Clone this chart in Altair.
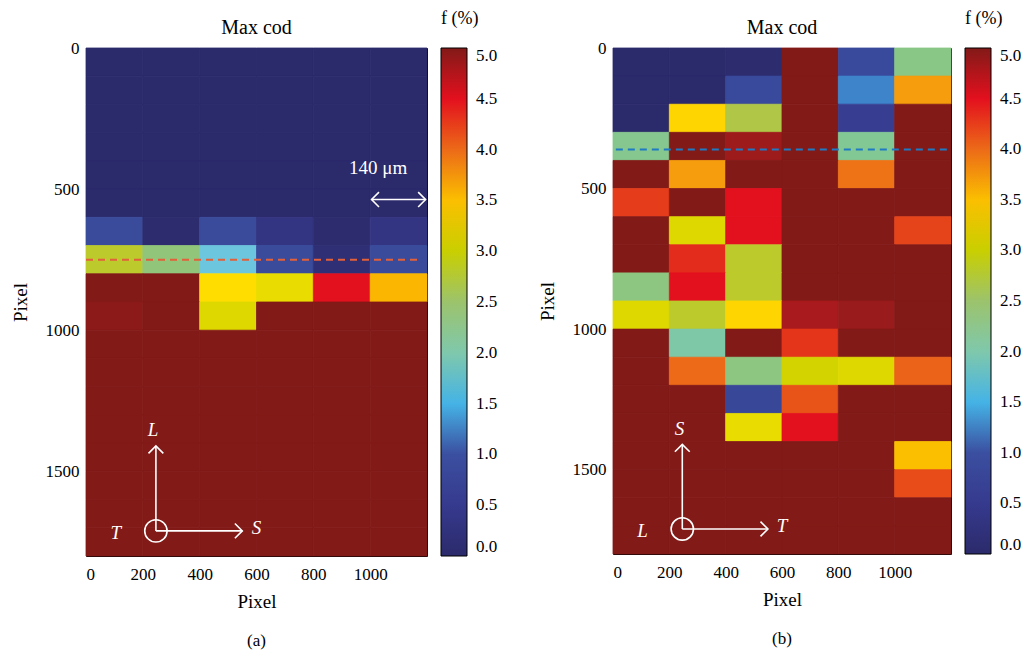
import altair as alt
import pandas as pd

FONT = "Liberation Serif"

# grid edges (pixel units)
X_EDGES = [0, 200, 400, 600, 800, 1000, 1200]
Y_EDGES = [0, 100, 200, 300, 400, 500, 600, 700, 800, 900, 1000,
           1100, 1200, 1300, 1400, 1500, 1600, 1700, 1800]
X_TICKS = [0, 200, 400, 600, 800, 1000]
Y_TICKS = [0, 500, 1000, 1500]
LEGEND_VALUES = [0.0, 0.5, 1.0, 1.5, 2.0, 2.5, 3.0, 3.5, 4.0, 4.5, 5.0]

# f (%) per cell, rows top to bottom, columns left to right
PANEL_A = [
    [0, 0, 0, 0, 0, 0],
    [0, 0, 0, 0, 0, 0],
    [0, 0, 0, 0, 0, 0],
    [0, 0, 0, 0, 0, 0],
    [0, 0, 0, 0, 0, 0],
    [0, 0, 0, 0, 0, 0],
    [0.9, 0.05, 0.9, 0.35, 0.05, 0.35],
    [2.85, 2.4, 1.75, 0.9, 0.15, 0.9],
    [5, 5, 3.3, 3.15, 4.5, 3.55],
    [4.95, 5, 3.1, 5, 5, 5],
    [5, 5, 5, 5, 5, 5],
    [5, 5, 5, 5, 5, 5],
    [5, 5, 5, 5, 5, 5],
    [5, 5, 5, 5, 5, 5],
    [5, 5, 5, 5, 5, 5],
    [5, 5, 5, 5, 5, 5],
    [5, 5, 5, 5, 5, 5],
    [5, 5, 5, 5, 5, 5],
]

PANEL_B = [
    [0, 0, 0.05, 5, 0.85, 2.3],
    [0, 0, 0.85, 5, 1.3, 3.7],
    [0, 3.35, 2.7, 5, 0.6, 5],
    [2.25, 5, 4.85, 5, 2.2, 5],
    [5, 3.7, 5, 5, 3.95, 5],
    [4.3, 5, 4.5, 5, 5, 5],
    [5, 3.1, 4.5, 5, 5, 4.25],
    [5, 4.4, 2.85, 5, 5, 5],
    [2.35, 4.5, 2.85, 5, 5, 5],
    [3.1, 2.85, 3.35, 4.8, 4.88, 5],
    [5, 2.05, 5, 4.35, 5, 5],
    [5, 4.0, 2.35, 3.05, 3.1, 4.05],
    [5, 5, 0.8, 4.15, 5, 5],
    [5, 5, 3.15, 4.5, 5, 5],
    [5, 5, 5, 5, 5, 3.5],
    [5, 5, 5, 5, 5, 4.2],
    [5, 5, 5, 5, 5, 5],
    [5, 5, 5, 5, 5, 5],
]

# colour map stops
STOPS = [0.0, 0.5, 1.0, 1.25, 1.5, 1.75, 2.0, 2.5, 2.75, 3.0, 3.25,
         3.5, 3.75, 4.0, 4.25, 4.5, 4.75, 5.0]
COLORS = ["#2b2a6b", "#363a8e", "#3b4fa0", "#3f78c2", "#45b3e6", "#6cc6de",
          "#7fc8ac", "#9cc36c", "#b6c63a", "#c9cf00", "#ffe400", "#fbbf00",
          "#f39410", "#ec6a18", "#e5441a", "#e3101e", "#b21a1e", "#821a18"]

# annotations (data units)
DASH_A = {"y": 750, "x": 0, "x2": 1170, "color": "#e2603a"}
DASH_B = {"y": 361, "x": 10, "x2": 1190, "color": "#1f7ac4"}
ORIGIN = (246, 1711)
UP_END = 1410
RIGHT_END = 550
LABELS_A = [("L", 236, 1354), ("S", 600, 1701), ("T", 105, 1718)]
LABELS_B = [("S", 236, 1354), ("T", 600, 1701), ("L", 105, 1718)]
SCALE_BAR = {"x": 1005, "x2": 1195, "y": 537, "tx": 1028, "ty": 424, "text": "140 μm"}
PANEL_TITLE = "Max cod"


def grid_frame(vals):
    recs = []
    for r, row in enumerate(vals):
        for c, v in enumerate(row):
            recs.append({"x": X_EDGES[c], "x2": X_EDGES[c + 1],
                         "y": Y_EDGES[r], "y2": Y_EDGES[r + 1], "f": v})
    return pd.DataFrame(recs)


def panel(vals, dash, labels, caption, width, height, scale_bar):
    xs = alt.Scale(domain=[0, 1200], nice=False, zero=False)
    ys = alt.Scale(domain=[0, 1800], nice=False, zero=False, reverse=True)
    cscale = alt.Scale(domain=STOPS, range=COLORS, clamp=True)
    heat = alt.Chart(grid_frame(vals)).mark_rect(strokeWidth=0.8).encode(
        x=alt.X("x:Q", scale=xs, axis=alt.Axis(values=X_TICKS, title="Pixel", format="d",
                                              labelPadding=10, titlePadding=10)),
        x2="x2:Q",
        y=alt.Y("y:Q", scale=ys, axis=alt.Axis(values=Y_TICKS, title="Pixel", format="d",
                                              labelPadding=7, titlePadding=15)),
        y2="y2:Q",
        color=alt.Color("f:Q", scale=cscale,
                        legend=alt.Legend(
                            title="f (%)", orient="none", legendX=width + 14,
                            legendY=-38, direction="vertical", type="gradient",
                            gradientLength=height, gradientThickness=26,
                            values=LEGEND_VALUES, format=".1f",
                            labelFont=FONT, labelFontSize=17, labelOffset=9,
                            labelColor="black", labelOverlap=False,
                            titleFont=FONT, titleFontSize=18, titleFontWeight="normal",
                            titleColor="black", titlePadding=20,
                            gradientStrokeColor="black", gradientStrokeWidth=1)),
        stroke=alt.Stroke("f:Q", scale=cscale, legend=None),
    )
    dash_df = pd.DataFrame([dash])
    dline = alt.Chart(dash_df).mark_rule(strokeDash=[7, 5], strokeWidth=2,
                                         color=dash["color"]).encode(
        x="x:Q", x2="x2:Q", y="y:Q")

    ox, oy = ORIGIN
    seg_df = pd.DataFrame([
        {"x": ox, "x2": ox, "y": oy, "y2": UP_END},
        {"x": ox, "x2": RIGHT_END, "y": oy, "y2": oy},
    ])
    segs = alt.Chart(seg_df).mark_rule(color="white", strokeWidth=1.6).encode(
        x="x:Q", x2="x2:Q", y="y:Q", y2="y2:Q")
    heads_list = [{"x": ox, "y": UP_END, "a": 270}, {"x": RIGHT_END, "y": oy, "a": 0}]
    layers = [heat, dline, segs]
    if scale_bar:
        sb = scale_bar
        sb_df = pd.DataFrame([{"x": sb["x"], "x2": sb["x2"], "y": sb["y"]}])
        layers.append(alt.Chart(sb_df).mark_rule(color="white", strokeWidth=1.6).encode(
            x="x:Q", x2="x2:Q", y="y:Q"))
        heads_list += [{"x": sb["x"], "y": sb["y"], "a": 180},
                       {"x": sb["x2"], "y": sb["y"], "a": 0}]
        layers.append(alt.Chart(pd.DataFrame([{"x": sb["tx"], "y": sb["ty"], "t": sb["text"]}]))
                      .mark_text(color="white", font=FONT, fontSize=19, align="center")
                      .encode(x="x:Q", y="y:Q", text="t:N"))
    heads = alt.Chart(pd.DataFrame(heads_list)).mark_point(
        shape="M-1,-1L0,0L-1,1", filled=False, color="white", strokeWidth=1.6,
        size=220, opacity=1).encode(x="x:Q", y="y:Q", angle=alt.Angle("a:Q", scale=None))
    circ = alt.Chart(pd.DataFrame([{"x": ox, "y": oy}])).mark_point(
        shape="circle", filled=False, color="white", strokeWidth=1.6, size=500,
        opacity=1).encode(x="x:Q", y="y:Q")
    lab = alt.Chart(pd.DataFrame([{"t": t, "x": x, "y": y} for t, x, y in labels])).mark_text(
        color="white", font=FONT, fontSize=19, fontStyle="italic").encode(
        x="x:Q", y="y:Q", text="t:N")
    cap = alt.Chart(pd.DataFrame([{"t": caption}])).mark_text(
        color="black", font=FONT, fontSize=17).encode(
        x=alt.value(width / 2), y=alt.value(height + 85), text="t:N")
    ttl = alt.Chart(pd.DataFrame([{"t": PANEL_TITLE}])).mark_text(
        color="black", font=FONT, fontSize=20).encode(
        x=alt.value(width / 2), y=alt.value(-20), text="t:N")
    layers += [heads, circ, lab, cap, ttl]
    return alt.layer(*layers).properties(width=width, height=height)


pa = panel(PANEL_A, DASH_A, LABELS_A, "(a)", 341, 508, SCALE_BAR)
pb = panel(PANEL_B, DASH_B, LABELS_B, "(b)", 338, 506, None)

chart = alt.hconcat(pa, pb, spacing=38).resolve_scale(color="independent").properties(
    padding={"left": 2, "top": 1, "right": 0, "bottom": 0}
).configure_view(stroke="black", strokeWidth=1).configure_axis(
    labelFont=FONT, labelFontSize=17, labelColor="black", titleFont=FONT,
    titleFontSize=19, titleFontWeight="normal", titleColor="black",
    domain=False, ticks=False, grid=False)

chart.save("out.html", embed_options={"renderer": "svg", "actions": False})
